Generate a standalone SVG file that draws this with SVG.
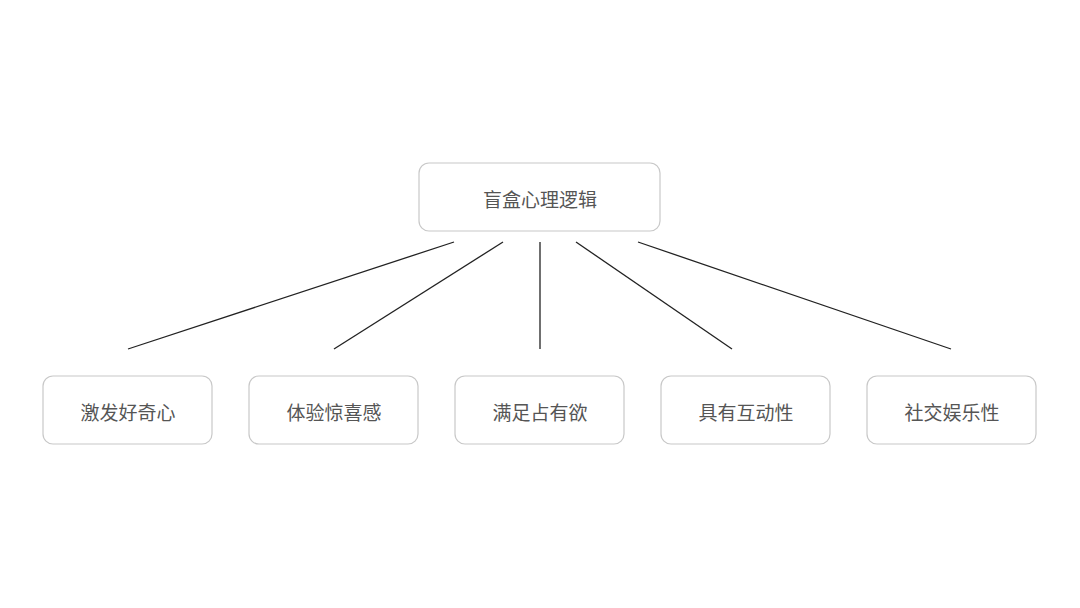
<svg xmlns="http://www.w3.org/2000/svg" width="1080" height="608" viewBox="0 0 1080 608">
<style>
.box{fill:#fff;stroke:#c8c8c8;stroke-width:1.2}
.t{font-family:"Noto Sans CJK SC",sans-serif;font-size:19px;fill:#555;text-anchor:middle;dominant-baseline:central}
.c line{stroke:#222;stroke-width:1.3}
</style>
<rect width="1080" height="608" fill="#fff"/>
<g id="root"><rect class="box" x="419" y="163" width="241" height="68" rx="10"/><text class="t" x="540" y="198">盲盒心理逻辑</text></g>
<g class="c" id="connectors">
<line x1="454" y1="242" x2="128" y2="349"/>
<line x1="503" y1="242" x2="334" y2="349"/>
<line x1="540" y1="242" x2="540" y2="349"/>
<line x1="576" y1="242" x2="732" y2="349"/>
<line x1="638" y1="242" x2="951" y2="349"/>
</g>
<g id="n1"><rect class="box" x="43" y="376" width="169" height="68" rx="10"/><text class="t" x="128" y="411">激发好奇心</text></g>
<g id="n2"><rect class="box" x="249" y="376" width="169" height="68" rx="10"/><text class="t" x="334" y="411">体验惊喜感</text></g>
<g id="n3"><rect class="box" x="455" y="376" width="169" height="68" rx="10"/><text class="t" x="540" y="411">满足占有欲</text></g>
<g id="n4"><rect class="box" x="661" y="376" width="169" height="68" rx="10"/><text class="t" x="746" y="411">具有互动性</text></g>
<g id="n5"><rect class="box" x="867" y="376" width="169" height="68" rx="10"/><text class="t" x="952" y="411">社交娱乐性</text></g>
</svg>
